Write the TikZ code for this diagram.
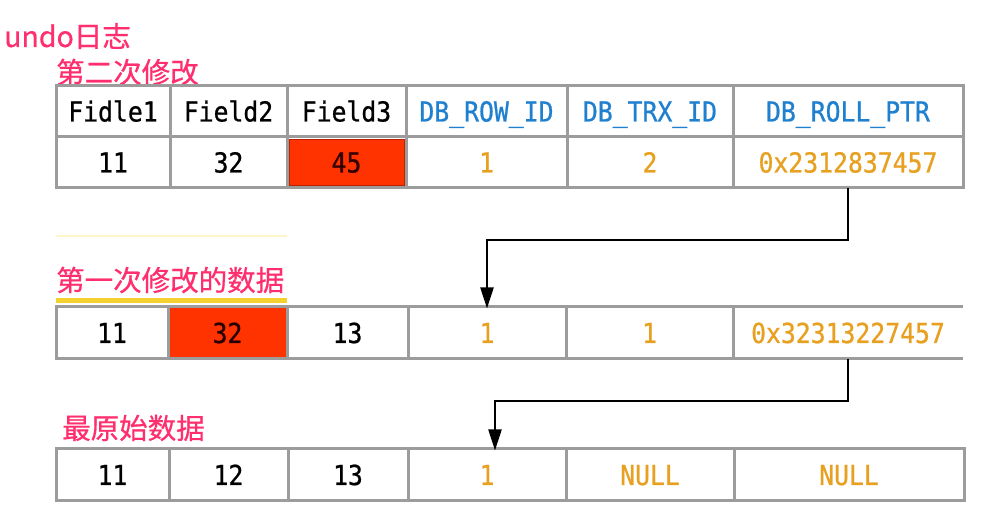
\documentclass[tikz,border=0pt]{standalone}
\usepackage{fontspec}
\usetikzlibrary{arrows.meta}
\newfontfamily\cjkfont[FakeBold=0.6]{Noto Sans CJK SC}
\newfontfamily\tabfont[FakeStretch=0.9,FakeBold=0.8]{DejaVu Sans Mono}
\definecolor{pinkc}{HTML}{FF2E6E}
\definecolor{bluec}{HTML}{2080D0}
\definecolor{orangec}{HTML}{E8A020}
\definecolor{redfill}{HTML}{FF3300}
\definecolor{redline}{HTML}{C02000}
\definecolor{gridc}{HTML}{9C9C9C}
\definecolor{yellowc}{HTML}{F5D130}
\definecolor{yellowfaint}{HTML}{FFF5C8}
\begin{document}
\begin{tikzpicture}[x=1pt,y=-1pt,
  cellbox/.style={draw=gridc,line width=3pt,inner sep=0pt,outer sep=0pt,
    text height=20pt,text depth=0pt,
    font=\tabfont\fontsize{27.5}{29}\selectfont},
  blk/.style={text=black},
  blu/.style={text=bluec},
  org/.style={text=orangec},
  hot/.style={fill=redfill,text=black!85!red},
  orgopen/.style={text=orangec,draw=none},
  lab/.style={inner sep=0pt,anchor=west,text=pinkc,
    font=\cjkfont\fontsize{28.5}{30}\selectfont},
  link/.style={draw=black,line width=2.2pt,-{Triangle[width=13pt,length=21pt]}}
]
\useasboundingbox[fill=white] (0,0) rectangle (986,518);

% labels
\node[lab] (undo) at (4,36) {undo日志};
\node[lab] (l2) at (56,72) {第二次修改};
\node[lab] (l1) at (56,280) {第一次修改的数据};
\node[lab] (l0) at (62,428) {最原始数据};
\draw[yellowfaint,line width=2pt] (56,236) -- (287,236);
\draw[yellowc,line width=5pt] (56,301) -- (287,301);

% top table header
\foreach \a/\b/\t/\s [count=\i] in {56/170/Fidle1/blk,170/287/Field2/blk,287/406/Field3/blk,
  406/567/DB\_ROW\_ID/blu,567/733/DB\_TRX\_ID/blu,733/963/DB\_ROLL\_PTR/blu}
  {\node[cellbox,\s,minimum width={(\b-\a)*1pt},minimum height=51pt] (h\i) at ({(\a+\b)/2},111.5) {\t};}
% top table values
\foreach \a/\b/\t/\s [count=\i] in {56/170/11/blk,170/287/32/blk,287/406/45/blk,
  406/567/1/org,567/733/2/org,733/963/0x2312837457/org}
  {\node[cellbox,\s,minimum width={(\b-\a)*1pt},minimum height=51pt] (v\i) at ({(\a+\b)/2},162.5) {\t};}
\fill[redfill,draw=redline,line width=1pt] (289.5,139.5) rectangle (404,186);
\node[inner sep=0pt,text height=20pt,text depth=0pt,font=\tabfont\fontsize{27.5}{29}\selectfont,text=black!80!red] (v3t) at (v3.center) {45};

% middle table
\foreach \a/\b/\t/\s [count=\i] in {56/168/11/blk,168/287/32/hot,287/408/13/blk,
  408/566/1/org,566/733/1/org,733/963/0x32313227457/orgopen}
  {\node[cellbox,\s,minimum width={(\b-\a)*1pt},minimum height=52pt] (m\i) at ({(\a+\b)/2},333) {\t};}
\draw[gridc,line width=3pt] (m6.north west) -- (m6.north east);
\draw[gridc,line width=3pt] (m6.south west) -- (m6.south east);

% bottom table
\foreach \a/\b/\t/\s [count=\i] in {56/169/11/blk,169/288/12/blk,288/408/13/blk,
  408/566/1/org,566/734/NULL/org,734/964/NULL/org}
  {\node[cellbox,\s,minimum width={(\b-\a)*1pt},minimum height=52pt] (b\i) at ({(\a+\b)/2},475) {\t};}

% roll pointers
\draw[link] (v6.south) -- ++(0,52) -| ([yshift=-1.5pt]m4.north);
\draw[link] (m6.south) -- ++(0,42) -| ([xshift=8pt,yshift=-1.5pt]b4.north);
\end{tikzpicture}
\end{document}
